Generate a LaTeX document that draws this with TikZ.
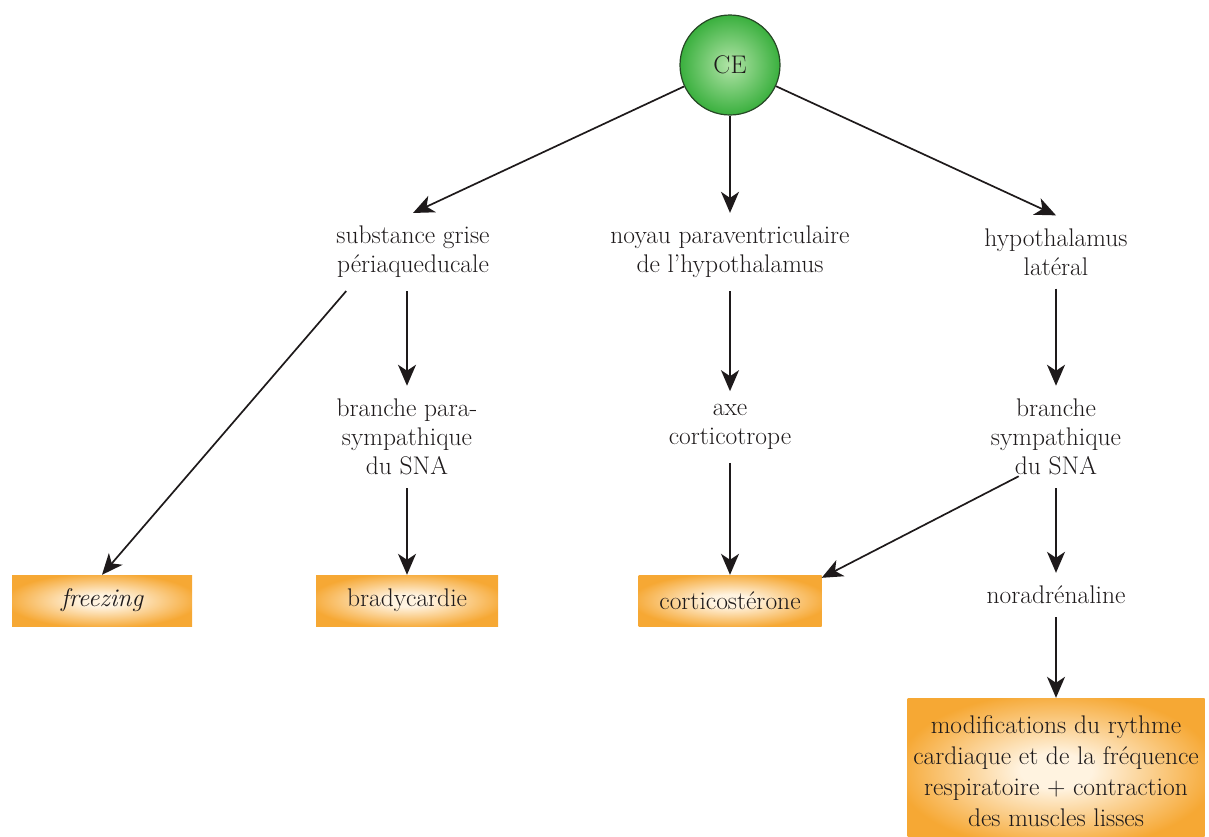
\documentclass[tikz,border=0pt]{standalone}
\usepackage{fontspec}
\usetikzlibrary{arrows.meta}
\definecolor{orangebox}{RGB}{246,168,52}
\definecolor{orangelight}{RGB}{255,243,224}
\definecolor{vertce}{RGB}{58,176,62}
\definecolor{vertclair}{RGB}{178,228,168}
\definecolor{encre}{RGB}{30,26,27}
\pgfdeclareradialshading{lueur}{\pgfpointorigin}{color(0bp)=(orangelight); color(6bp)=(orangelight); color(27bp)=(orangebox); color(50bp)=(orangebox)}

\begin{document}
\begin{tikzpicture}[x=1pt,y=-1pt,
  font=\fontsize{25.5}{29}\selectfont,
  txt/.style={align=center,inner xsep=4pt,inner ysep=13pt,text=encre},
  effet/.style={shading=lueur,minimum height=51pt,text=encre,inner sep=0pt},
  fleche/.style={-{Stealth[length=21pt,width=18pt,inset=6pt]},line width=1.7pt,draw=encre}]
\useasboundingbox (0,0) rectangle (1209,836);
\node[circle,minimum size=100pt,draw=encre!70!vertce,line width=1.2pt,inner color=vertclair,outer color=vertce,text=encre] (ce) at (730,65) {CE};
\node[txt] (pag) at (413,252) {substance grise\\périaqueducale};
\node[txt] (pvn) at (730,252) {noyau paraventriculaire\\de l’hypothalamus};
\node[txt] (hl) at (1056,252) {hypothalamus\\latéral};
\node[txt] (para) at (407,437) {branche para-\\sympathique\\du SNA};
\node[txt] (axe) at (730,427) {axe\\corticotrope};
\node[txt] (sympa) at (1056,437) {branche\\sympathique\\du SNA};
\node[txt] (nor) at (1056,595) {noradrénaline};
\node[effet,minimum width=180pt] (freez) at (102,600.5) {\itshape freezing};
\node[effet,minimum width=182pt] (brady) at (407,600.5) {bradycardie};
\node[effet,minimum width=183pt] (cort) at (730,600.5) {corticostérone};
\node[effet,minimum width=297pt,minimum height=146pt,align=center,font=\fontsize{25.5}{31}\selectfont] (modif) at (1056,771) {modifications du rythme\\cardiaque et de la fréquence\\respiratoire + contraction\\des muscles lisses};
\draw[fleche] (ce) -- (pag.north);
\draw[fleche] (ce) -- (pvn);
\draw[fleche] (ce) -- (hl.north);
\draw[fleche] (para.north |- pag.south) -- (para.north);
\draw[fleche] (pvn) -- (axe);
\draw[fleche] (sympa.north |- hl.south) -- (sympa.north);
\draw[fleche] ([xshift=14pt]pag.south west) -- (freez.north);
\draw[fleche] (para) -- (brady);
\draw[fleche] (axe) -- (cort);
\draw[fleche] ([xshift=32pt,yshift=12pt]sympa.south west) -- ([yshift=-3pt]cort.north east);
\draw[fleche] (sympa) -- (nor);
\draw[fleche] (nor) -- (modif);
\end{tikzpicture}
\end{document}
